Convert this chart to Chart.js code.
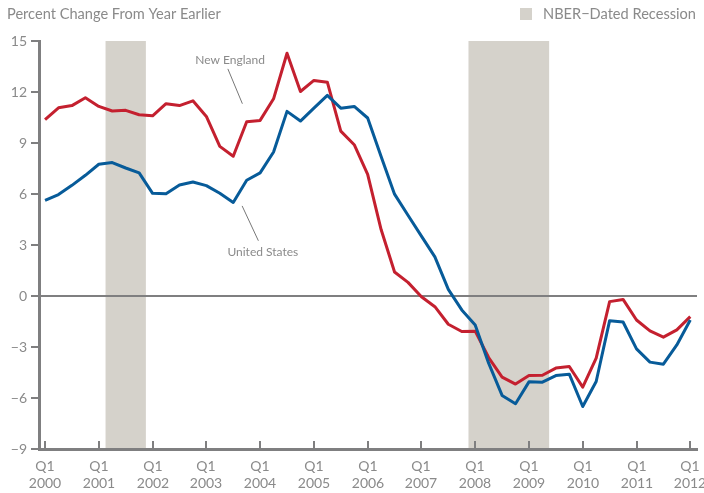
<!DOCTYPE html>
<html>
<head>
<meta charset="utf-8">
<script src="https://cdn.jsdelivr.net/npm/chart.js@4/dist/chart.umd.min.js"></script>
<style>
  html, body { margin: 0; padding: 0; background: #fff; }
  #wrap { width: 704px; height: 493px; }
</style>
</head>
<body>
<div id="wrap"><canvas id="chart" width="704" height="493"></canvas></div>
<script>
// quarterly data, Q1 2000 .. Q1 2012 (one value per quarter)
const years = [2000, 2001, 2002, 2003, 2004, 2005, 2006, 2007, 2008, 2009, 2010, 2011, 2012];
const newEngland = [
  10.37, 11.07, 11.2, 11.66, 11.15, 10.88, 10.92, 10.66,
  10.6, 11.31, 11.2, 11.48, 10.56, 8.8, 8.22, 10.25,
  10.33, 11.6, 14.28, 12.03, 12.68, 12.58, 9.7, 8.9,
  7.16, 3.91, 1.41, 0.8, -0.04, -0.63, -1.66, -2.09,
  -2.07, -3.62, -4.77, -5.18, -4.68, -4.66, -4.24, -4.15,
  -5.36, -3.66, -0.33, -0.2, -1.41, -2.05, -2.42, -1.99,
  -1.21
];
const unitedStates = [
  5.63, 5.97, 6.51, 7.1, 7.75, 7.85, 7.53, 7.24,
  6.04, 6.02, 6.53, 6.71, 6.49, 6.04, 5.5, 6.81,
  7.24, 8.47, 10.86, 10.29, 11.05, 11.8, 11.05, 11.15,
  10.47, 8.2, 5.99, 4.75, 3.52, 2.3, 0.39, -0.82,
  -1.7, -3.95, -5.85, -6.34, -5.05, -5.07, -4.68, -4.6,
  -6.5, -5.03, -1.45, -1.53, -3.11, -3.89, -4.01, -2.88,
  -1.41
];
const yTicks = [-9, -6, -3, 0, 3, 6, 9, 12, 15];
// recession spans in quarter index units (0 = Q1 2000)
const recessions = [[4.5, 7.5], [31.5, 37.5]];

const AXIS = '#7f7f80';
const TEXT = '#8a8a8a';
const SHADE = '#d5d2cb';
const RED = '#c4202f';
const BLUE = '#075b99';
const FONT = 'Lato, "Open Sans", sans-serif';

function toPoints(arr) {
  return arr.map((v, i) => ({ x: i, y: v }));
}

const extras = {
  id: 'extras',
  beforeDraw(chart) {
    const { ctx, chartArea, scales } = chart;
    ctx.save();
    ctx.fillStyle = SHADE;
    recessions.forEach(r => {
      const x0 = scales.x.getPixelForValue(r[0]);
      const x1 = scales.x.getPixelForValue(r[1]);
      ctx.fillRect(x0, chartArea.top, x1 - x0, chartArea.bottom - chartArea.top);
    });
    ctx.restore();
  },
  afterDraw(chart) {
    const { ctx, chartArea, scales } = chart;
    const xs = scales.x, ys = scales.y;
    ctx.save();
    // x tick marks (inside) and labels
    ctx.strokeStyle = AXIS;
    ctx.lineWidth = 2;
    ctx.fillStyle = TEXT;
    ctx.font = '14px ' + FONT;
    ctx.textAlign = 'center';
    ctx.textBaseline = 'middle';
    years.forEach((yr, k) => {
      const px = Math.round(xs.getPixelForValue(k * 4));
      ctx.beginPath();
      ctx.moveTo(px, chartArea.bottom - 8);
      ctx.lineTo(px, chartArea.bottom);
      ctx.stroke();
      ctx.fillText('Q1', px, chartArea.bottom + 17);
      ctx.fillText(String(yr), px, chartArea.bottom + 34);
    });

    // series labels with leader lines
    ctx.lineWidth = 1;
    ctx.strokeStyle = '#777';
    ctx.beginPath();
    ctx.moveTo(xs.getPixelForValue(13.6), ys.getPixelForValue(13.36));
    ctx.lineTo(xs.getPixelForValue(14.68), ys.getPixelForValue(11.31));
    ctx.moveTo(xs.getPixelForValue(14.66), ys.getPixelForValue(5.3));
    ctx.lineTo(xs.getPixelForValue(15.87), ys.getPixelForValue(3.25));
    ctx.stroke();
    ctx.font = '12px ' + FONT;
    ctx.fillText('New England', xs.getPixelForValue(13.76), ys.getPixelForValue(13.9));
    ctx.fillText('United States', xs.getPixelForValue(16.2), ys.getPixelForValue(2.58));

    // title
    ctx.font = '14.6px ' + FONT;
    ctx.textAlign = 'left';
    ctx.fillText('Percent Change From Year Earlier', 7, 14);

    // legend
    ctx.fillStyle = SHADE;
    ctx.fillRect(520, 8, 12, 12);
    ctx.fillStyle = TEXT;
    ctx.fillText('NBER\u2212Dated Recession', 543, 14);
    ctx.restore();
  }
};

new Chart(document.getElementById('chart'), {
  type: 'line',
  data: {
    datasets: [
      {
        label: 'United States',
        data: toPoints(unitedStates),
        borderColor: BLUE,
        borderWidth: 3,
        pointRadius: 0,
        borderJoinStyle: 'round',
        tension: 0
      },
      {
        label: 'New England',
        data: toPoints(newEngland),
        borderColor: RED,
        borderWidth: 3,
        pointRadius: 0,
        borderJoinStyle: 'round',
        tension: 0
      }
    ]
  },
  options: {
    responsive: false,
    animation: false,
    devicePixelRatio: 1,
    layout: { padding: { top: 41, right: 7, left: 0, bottom: 0 } },
    plugins: {
      legend: { display: false },
      tooltip: { enabled: false }
    },
    scales: {
      x: {
        type: 'linear',
        min: -0.45,
        max: 48.5,
        ticks: { display: false },
        grid: { display: false },
        border: { display: true, color: AXIS, width: 3 },
        afterFit: s => { s.height = 44; }
      },
      y: {
        min: -9,
        max: 15,
        afterBuildTicks: s => { s.ticks = yTicks.map(v => ({ value: v })); },
        ticks: {
          color: TEXT,
          font: { family: FONT, size: 14 },
          padding: 4,
          callback: v => (v < 0 ? '\u2212' + Math.abs(v) : String(v))
        },
        grid: {
          drawOnChartArea: true,
          color: c => (c.tick && c.tick.value === 0 ? AXIS : 'rgba(0,0,0,0)'),
          lineWidth: 2,
          tickColor: AXIS,
          tickLength: 8,
          tickWidth: 2
        },
        border: { display: true, color: AXIS, width: 3 },
        afterFit: s => { s.width = 39; }
      }
    }
  },
  plugins: [extras]
});
</script>
</body>
</html>
